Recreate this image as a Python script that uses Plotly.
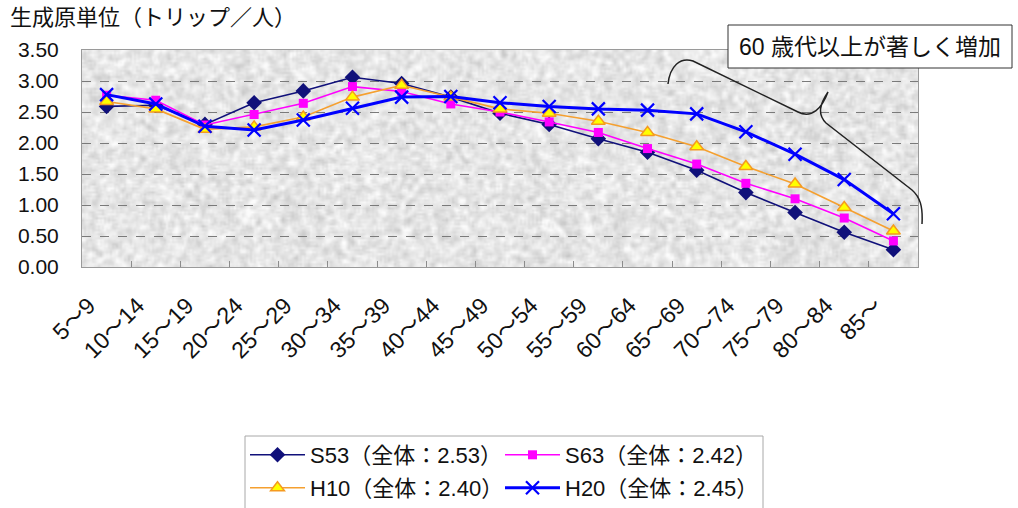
import base64
import struct
import zlib

import numpy as np
import plotly.graph_objects as go

# Age groups and trip generation rates (trips per person) by survey year
ages = ["5〜9", "10〜14", "15〜19", "20〜24", "25〜29", "30〜34", "35〜39", "40〜44",
        "45〜49", "50〜54", "55〜59", "60〜64", "65〜69", "70〜74", "75〜79", "80〜84", "85〜"]
s53 = [2.59, 2.61, 2.30, 2.65, 2.84, 3.06, 2.96, 2.74, 2.48, 2.30, 2.07, 1.85, 1.56, 1.20, 0.88, 0.56, 0.28]
s63 = [2.77, 2.69, 2.29, 2.46, 2.64, 2.91, 2.83, 2.63, 2.50, 2.34, 2.17, 1.91, 1.66, 1.35, 1.10, 0.79, 0.42]
h10 = [2.67, 2.55, 2.22, 2.26, 2.42, 2.74, 2.93, 2.74, 2.55, 2.48, 2.35, 2.17, 1.94, 1.62, 1.34, 0.96, 0.58]
h20 = [2.78, 2.63, 2.27, 2.21, 2.37, 2.56, 2.74, 2.75, 2.65, 2.59, 2.55, 2.53, 2.47, 2.18, 1.82, 1.41, 0.86]
series_names = ["S53（全体：2.53）", "S63（全体：2.42）", "H10（全体：2.40）", "H20（全体：2.45）"]
y_ticks = [0, 0.5, 1.0, 1.5, 2.0, 2.5, 3.0, 3.5]

FONT = "Liberation Sans, Arial, Noto Sans CJK JP, sans-serif"
W, H = 1018, 508
L, R, T, B = 82, 918, 50, 267  # plot area in pixels


def px(x, y):
    """Pixel position -> paper coordinates."""
    return (x - L) / (R - L), (B - y) / (B - T)


def granite_png(w, h):
    """Light grey speckled fill for the plotting area, as a PNG data URI."""
    yy, xx = np.mgrid[0:h, 0:w].astype(float)
    n = np.sin(xx * 12.9898 + yy * 78.233) * 43758.5453
    n = n - np.floor(n)
    # soften into small blotches
    k = np.zeros_like(n)
    for dy in (-1, 0, 1):
        for dx in (-1, 0, 1):
            k += np.roll(np.roll(n, dy, 0), dx, 1)
    k /= 9.0
    g = 230 + (k - 0.5) * 90
    g = np.clip(g, 190, 252).astype(np.uint8)
    raw = b"".join(b"\x00" + g[r].tobytes() for r in range(h))

    def chunk(tag, data):
        c = tag + data
        return struct.pack(">I", len(data)) + c + struct.pack(">I", zlib.crc32(c) & 0xFFFFFFFF)

    png = (b"\x89PNG\r\n\x1a\n"
           + chunk(b"IHDR", struct.pack(">IIBBBBB", w, h, 8, 0, 0, 0, 0))
           + chunk(b"IDAT", zlib.compress(raw, 9))
           + chunk(b"IEND", b""))
    return "data:image/png;base64," + base64.b64encode(png).decode()


fig = go.Figure()
fig.add_trace(go.Scatter(
    x=ages, y=s53, name=series_names[0], mode="lines+markers", legend="legend",
    line=dict(color="#10107a", width=1.6),
    marker=dict(symbol="diamond", size=12, color="#10107a")))
fig.add_trace(go.Scatter(
    x=ages, y=s63, name=series_names[1], mode="lines+markers", legend="legend",
    line=dict(color="#ff00ff", width=1.6),
    marker=dict(symbol="square", size=9, color="#ff00ff")))
fig.add_trace(go.Scatter(
    x=ages, y=h10, name=series_names[2], mode="lines+markers", legend="legend2",
    line=dict(color="#f5a030", width=1.6),
    marker=dict(symbol="triangle-up", size=12, color="#ffff00",
                line=dict(color="#f59a20", width=1.5))))
fig.add_trace(go.Scatter(
    x=ages, y=h20, name=series_names[3], mode="lines+markers", legend="legend2",
    line=dict(color="#0000ff", width=3),
    marker=dict(symbol="x-thin", size=13, color="#0000ff",
                line=dict(color="#0000ff", width=2.2))))

# curly brace marking the 60+ age groups
brace_pts = [
    ("M", [(668, 84)]),
    ("C", [(670, 66), (680, 57), (693, 61)]),
    ("L", [(798, 112)]),
    ("C", [(812, 119), (822, 108), (828, 92)]),
    ("C", [(820, 104), (817, 114), (826, 123)]),
    ("L", [(912, 190)]),
    ("C", [(920, 197), (923, 206), (922, 224)]),
]
path = ""
for cmd, pts in brace_pts:
    path += cmd + " " + ", ".join("%.5f %.5f" % px(*p) for p in pts) + " "

bx0, by0 = px(728, 68)
bx1, by1 = px(1012, 25)
tx, ty = px(8, 18)
lx0, ly0 = px(245, 530)
lx1, ly1 = px(763, 436)

legend_style = dict(
    orientation="h", xanchor="left", yanchor="top",
    font=dict(size=22, family=FONT),
    bgcolor="rgba(0,0,0,0)", borderwidth=0,
    itemwidth=55, entrywidth=185, traceorder="normal",
)

fig.update_layout(
    width=W, height=H,
    margin=dict(l=L, r=W - R, t=T, b=H - B, autoexpand=False),
    paper_bgcolor="white",
    plot_bgcolor="rgba(0,0,0,0)",
    font=dict(family=FONT, color="#111111"),
    showlegend=True,
    legend=dict(x=px(245, 0)[0], y=px(0, 434)[1], **legend_style),
    legend2=dict(x=px(245, 0)[0], y=px(0, 467)[1], **legend_style),
    xaxis=dict(
        type="category", range=[-0.5, len(ages) - 0.5], automargin=False,
        tickangle=-45, tickfont=dict(size=23),
        ticks="inside", tickson="boundaries", ticklen=6, tickcolor="#8c8c8c",
        showline=True, linecolor="#9a9a9a", linewidth=1, mirror=True,
        showgrid=False, ticklabelstandoff=15, ticklabelshift=-18,
    ),
    yaxis=dict(
        range=[0, 3.5], tickvals=y_ticks, tickformat=".2f", automargin=False,
        tickfont=dict(size=21), ticks="", ticklabelstandoff=18,
        showline=True, linecolor="#9a9a9a", linewidth=1, mirror=True,
        showgrid=True, gridcolor="#7a7a7a", griddash="dash", gridwidth=1,
        zeroline=False,
    ),
    images=[dict(source=granite_png(418, 109), xref="paper", yref="paper",
                 x=0, y=1, sizex=1, sizey=1, xanchor="left", yanchor="top",
                 sizing="stretch", layer="below")],
    shapes=[
        dict(type="path", path=path, xref="paper", yref="paper",
             line=dict(color="#222222", width=1.5)),
        dict(type="rect", xref="paper", yref="paper", x0=bx0, y0=by0, x1=bx1, y1=by1,
             line=dict(color="#333333", width=1), fillcolor="white"),
        dict(type="rect", xref="paper", yref="paper", x0=lx0, y0=ly0, x1=lx1, y1=ly1,
             line=dict(color="#a8a8a8", width=1), fillcolor="white", layer="below"),
    ],
    annotations=[
        dict(text="60 歳代以上が著しく増加", xref="paper", yref="paper",
             x=(bx0 + bx1) / 2, y=(by0 + by1) / 2, xanchor="center", yanchor="middle",
             showarrow=False, font=dict(size=23, family=FONT, color="#111111")),
        dict(text="生成原単位（トリップ／人）", xref="paper", yref="paper",
             x=tx, y=ty, xanchor="left", yanchor="middle",
             showarrow=False, font=dict(size=22, family=FONT, color="#111111")),
    ],
)

fig.write_html("out.html")
